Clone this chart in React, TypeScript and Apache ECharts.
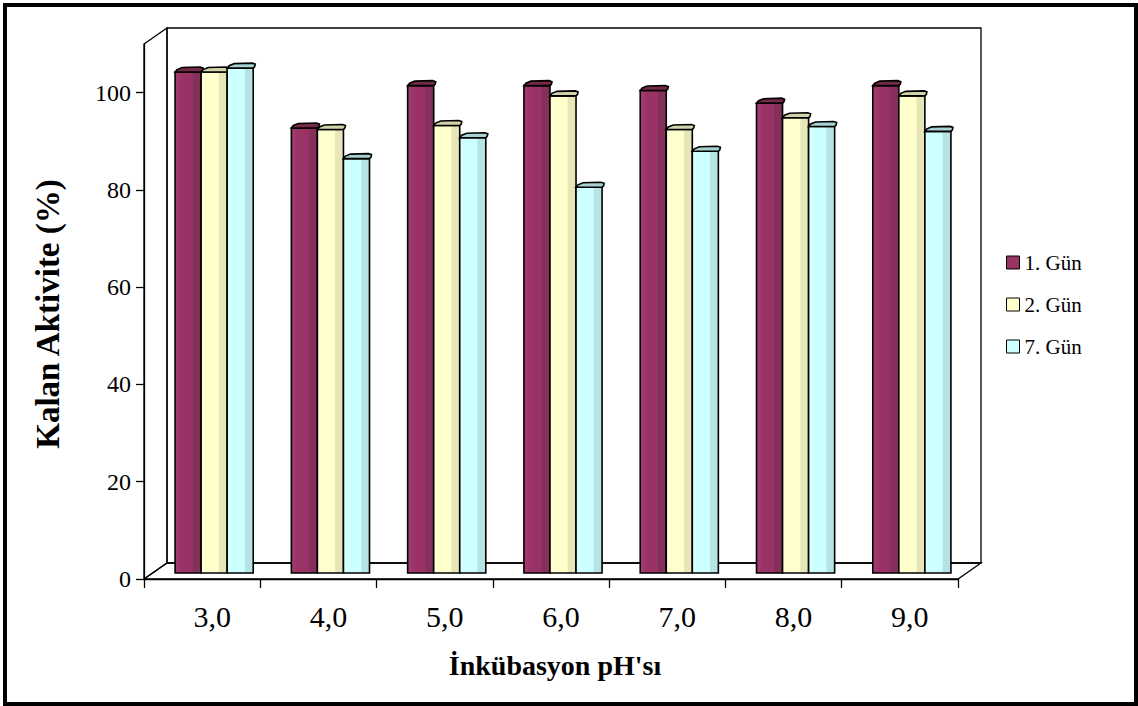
import { useEffect, useRef } from 'react';
import * as echarts from 'echarts';

const categories = ['3,0', '4,0', '5,0', '6,0', '7,0', '8,0', '9,0'];
const seriesNames = ['1. Gün', '2. Gün', '7. Gün'];
const gun1 = [103, 91.5, 100.2, 100.2, 99.2, 96.6, 100.2];
const gun2 = [103, 91.2, 92, 98.1, 91.2, 93.6, 98.1];
const gun7 = [103.8, 85.2, 89.5, 79.3, 86.7, 91.8, 90.8];
const yTicks = [0, 20, 40, 60, 80, 100];
const yTitle = 'Kalan Aktivite (%)';
const xTitle = "İnkübasyon pH'sı";

const FONT = '"Liberation Serif", "Times New Roman", serif';
const W = 1138;
const H = 706;
const GRID = { left: 144, top: 44, right: 180, bottom: 127 };
const DEPTH = { dx: 23, dy: -16 };
const BAR_OFF = { dx: 12, dy: -6 };

const palettes = [
  { base: '#993366', light: '#a43d70', dark: '#84305a', cap: '#762848' },
  { base: '#FFFFCC', light: '#ffffd8', dark: '#e6e6b8', cap: '#d3d3aa' },
  { base: '#CCFFFF', light: '#d8ffff', dark: '#b6e4e4', cap: '#a6d0d1' },
];

function makeRender(si: number) {
  const pal = palettes[si];
  return (params: any, api: any) => {
    const ci = api.value(0);
    const v = api.value(1);
    const p0 = api.coord([ci, 0]);
    const p1 = api.coord([ci, v]);
    const band = api.size([1, 0])[0];
    const w = band * 0.224;
    const x0 = p0[0] + BAR_OFF.dx - 1.5 * w + si * w;
    const x1 = x0 + w;
    const yb = p0[1] + BAR_OFF.dy;
    const yt = p1[1] + BAR_OFF.dy;
    const grad = new echarts.graphic.LinearGradient(0, 0, 1, 0, [
      { offset: 0, color: pal.light },
      { offset: 0.25, color: pal.base },
      { offset: 0.66, color: pal.base },
      { offset: 0.7, color: pal.dark },
      { offset: 1, color: pal.dark },
    ]);
    return {
      type: 'group',
      children: [
        {
          type: 'rect',
          shape: { x: x0, y: yt, width: w, height: yb - yt },
          style: { fill: grad, stroke: '#000', lineWidth: 1.6 },
        },
        {
          type: 'polygon',
          shape: {
            points: [
              [x0, yt],
              [x0 + 2, yt - 2.5],
              [x0 + 7, yt - 4.5],
              [x1 - 1, yt - 5],
              [x1 + 2, yt - 4],
              [x1 + 1.5, yt - 1.5],
              [x1, yt],
            ],
          },
          style: { fill: pal.cap, stroke: '#000', lineWidth: 1.6 },
        },
      ],
    };
  };
}

export default function App() {
  const ref = useRef<HTMLDivElement>(null);
  useEffect(() => {
    document.body.style.margin = '0';
    if (!ref.current) return;
    const chart = echarts.init(ref.current, null, { renderer: 'svg' });
    const fx = GRID.left;
    const fy0 = GRID.top;
    const fx1 = W - GRID.right;
    const fy1 = H - GRID.bottom;
    const bx = fx + DEPTH.dx;
    const bx1 = fx1 + DEPTH.dx;
    const by0 = fy0 + DEPTH.dy;
    const by1 = fy1 + DEPTH.dy;
    const wallStyle = { fill: 'none', stroke: '#000', lineWidth: 1.3 };
    const allData = [gun1, gun2, gun7];
    chart.setOption({
      animation: false,
      backgroundColor: '#fff',
      grid: { ...GRID },
      legend: {
        orient: 'vertical',
        left: 1001,
        top: 247,
        itemWidth: 13,
        itemHeight: 13,
        itemGap: 21,
        icon: 'rect',
        itemStyle: { borderColor: '#000', borderWidth: 1 },
        textStyle: { fontFamily: FONT, fontSize: 21, color: '#000' },
        data: seriesNames,
      },
      xAxis: {
        type: 'category',
        data: categories,
        boundaryGap: true,
        axisLine: { lineStyle: { color: '#000', width: 1.3 } },
        axisTick: { show: true, length: 9, alignWithLabel: false, lineStyle: { color: '#000', width: 1.3 } },
        axisLabel: {
          fontFamily: FONT,
          fontSize: 30,
          color: '#000',
          margin: 22,
          padding: [0, 0, 0, 20],
        },
        splitLine: { show: false },
      },
      yAxis: {
        type: 'value',
        min: 0,
        max: 110,
        interval: 20,
        axisLine: { show: true, lineStyle: { color: '#000', width: 1.3 } },
        axisTick: { show: true, length: 8, customValues: yTicks, lineStyle: { color: '#000', width: 1.3 } },
        axisLabel: {
          fontFamily: FONT,
          fontSize: 24,
          color: '#000',
          margin: 13,
          customValues: yTicks,
          formatter: (v: number) => (yTicks.includes(v) ? String(v) : ''),
        },
        splitLine: { show: false },
      },
      graphic: [
        {
          type: 'polygon',
          z: 0,
          shape: { points: [[bx, by0], [bx1, by0], [bx1, by1], [bx, by1]] },
          style: wallStyle,
        },
        {
          type: 'polygon',
          z: 0,
          shape: { points: [[fx, fy0], [bx, by0], [bx, by1], [fx, fy1]] },
          style: wallStyle,
        },
        {
          type: 'polygon',
          z: 0,
          shape: { points: [[fx, fy1], [bx, by1], [bx1, by1], [fx1, fy1]] },
          style: wallStyle,
        },
        {
          type: 'text',
          z: 5,
          x: 48,
          y: 314,
          rotation: Math.PI / 2,
          style: {
            text: yTitle,
            fontFamily: FONT,
            fontWeight: 'bold',
            fontSize: 33,
            fill: '#000',
            align: 'center',
            verticalAlign: 'middle',
          },
        },
        {
          type: 'text',
          z: 5,
          x: 555,
          y: 665,
          style: {
            text: xTitle,
            fontFamily: FONT,
            fontWeight: 'bold',
            fontSize: 28,
            fill: '#000',
            align: 'center',
            verticalAlign: 'middle',
          },
        },
        {
          type: 'rect',
          z: 10,
          shape: { x: 5, y: 5, width: 1131, height: 699 },
          style: { fill: 'none', stroke: '#000', lineWidth: 4 },
        },
      ],
      series: allData.map((d, si) => ({
        type: 'custom',
        name: seriesNames[si],
        z: 3,
        itemStyle: { color: palettes[si].base },
        encode: { x: 0, y: 1 },
        data: d.map((v, i) => [i, v]),
        renderItem: makeRender(si),
      })),
    });
    return () => chart.dispose();
  }, []);
  return <div ref={ref} style={{ width: W, height: H }} />;
}
